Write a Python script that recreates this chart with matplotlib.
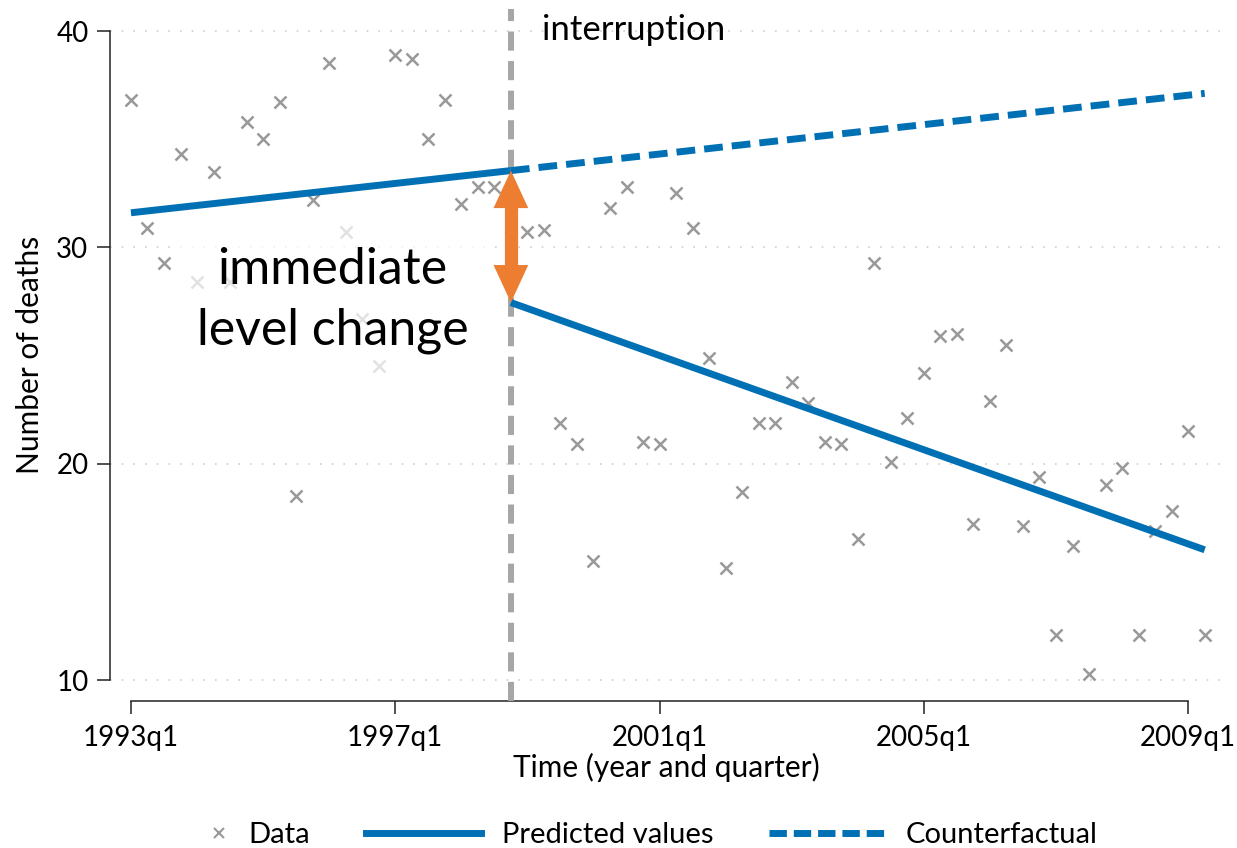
import matplotlib
matplotlib.use("Agg")
import matplotlib.pyplot as plt
from matplotlib.lines import Line2D
from matplotlib.legend_handler import HandlerBase
from matplotlib.patches import FancyArrowPatch
import numpy as np

plt.rcParams['font.family'] = ['Lato', 'DejaVu Sans']

# quarterly deaths, 1993q1 .. 2009q2 (index 0 = 1993q1)
deaths = [36.8, 30.9, 29.3, 34.3, 28.4, 33.5, 28.4, 35.8, 35.0, 36.7,
          18.5, 32.2, 38.5, 30.7, 26.7, 24.5, 38.9, 38.7, 35.0, 36.8,
          32.0, 32.8, 32.8, 30.5, 30.7, 30.8, 21.9, 20.9, 15.5, 31.8,
          32.8, 21.0, 20.9, 32.5, 30.9, 24.9, 15.2, 18.7, 21.9, 21.9,
          23.8, 22.8, 21.0, 20.9, 16.5, 29.3, 20.1, 22.1, 24.2, 25.9,
          26.0, 17.2, 22.9, 25.5, 17.1, 19.4, 12.1, 16.2, 10.3, 19.0,
          19.8, 12.1, 16.9, 17.8, 21.5, 12.1]

interruption = 23  # 1998q4
pre_x, pre_y = [0, 23], [31.60, 33.55]
post_x, post_y = [23, 65], [27.45, 16.02]
cf_x, cf_y = [23, 65], [33.55, 37.12]

tick_pos = [0, 16, 32, 48, 64]
tick_labels = ['1993q1', '1997q1', '2001q1', '2005q1', '2009q1']
ytick_pos = [10, 20, 30, 40]

blue = '#0070B4'
orange = '#ED7D31'
gray = '#999999'

fig = plt.figure(figsize=(12.37, 8.48), dpi=100)
ax = fig.add_axes([0.0889, 0.1733, 0.899, 0.8156])

x = np.arange(len(deaths))
ax.plot(x, deaths, ls='none', marker='x', ms=9, mew=1.8, color=gray, zorder=2)

ax.axvline(interruption, color='#A6A6A6', lw=4.3, ls=(0, (3.2, 1.75)), zorder=2.8)
ax.plot(pre_x, pre_y, color=blue, lw=5, solid_capstyle='butt', zorder=3)
ax.plot(post_x, post_y, color=blue, lw=5, solid_capstyle='butt', zorder=3)
ax.plot(cf_x, cf_y, color=blue, lw=5, ls=(0, (2.7, 1.3)), zorder=3)

# double-headed arrow for the level change
arrow = FancyArrowPatch((interruption, pre_y[1]), (interruption, post_y[0]),
                        arrowstyle='<|-|>,head_length=27,head_width=12.5',
                        mutation_scale=1, lw=0, color=orange,
                        shrinkA=0, shrinkB=0, zorder=4)
ax.add_patch(arrow)
ax.plot([interruption, interruption], [pre_y[1] - 1.5, post_y[0] + 1.5],
        color=orange, lw=9.5, solid_capstyle='butt', zorder=4)

ax.text(12.2, 27.55, 'immediate\nlevel change', fontsize=36, ha='center', va='center',
        linespacing=1.38, zorder=2.5,
        bbox=dict(boxstyle='square,pad=0.45', facecolor='white', alpha=0.72, edgecolor='none'))
ax.text(24.9, 40.05, 'interruption', fontsize=25, ha='left', va='center')

ax.set_xlim(-1.27, 66.05)
ax.set_ylim(9.03, 41.0)
ax.set_xticks(tick_pos)
ax.set_xticklabels(tick_labels)
ax.set_yticks(ytick_pos)
ax.grid(axis='y', color='#CFCFCF', lw=1.2, ls=(0, (1, 6)), zorder=0)
ax.set_axisbelow(True)

for s in ['top', 'right']:
    ax.spines[s].set_visible(False)
ax.spines['left'].set_bounds(10, 40)
ax.spines['bottom'].set_bounds(0, 64)
for s in ['left', 'bottom']:
    ax.spines[s].set_linewidth(1.1)
    ax.spines[s].set_color('#222222')
ax.tick_params(axis='both', length=9.5, width=1.1, color='#222222', labelsize=20)
ax.tick_params(axis='x', pad=8)
ax.tick_params(axis='y', pad=6)

ax.set_xlabel('Time (year and quarter)', fontsize=21.5, labelpad=1)
ax.set_ylabel('Number of deaths', fontsize=21.5, labelpad=9)


class HandlerMarkerRight(HandlerBase):
    def create_artists(self, legend, orig_handle, xdescent, ydescent,
                       width, height, fontsize, trans):
        xm = -xdescent + width - 0.3 * fontsize
        ym = (height - ydescent) / 2
        m = Line2D([xm], [ym], ls='none', marker='x', ms=7, mew=1.5,
                   color=orig_handle.get_color(), transform=trans)
        return [m]


h_data = Line2D([], [], ls='none', marker='x', color=gray)
h_pred = Line2D([], [], color=blue, lw=5)
h_cf = Line2D([], [], color=blue, lw=5, ls=(0, (2.5, 1.0)))
fig.legend([h_data, h_pred, h_cf], ['Data', 'Predicted values', 'Counterfactual'],
           loc='center', bbox_to_anchor=(0.489, 1 - 835 / 848), ncol=3, frameon=False,
           fontsize=21, handlelength=3.95, handletextpad=0.72, columnspacing=1.9,
           handler_map={h_data: HandlerMarkerRight()})

fig.savefig('out.png', dpi=100)
